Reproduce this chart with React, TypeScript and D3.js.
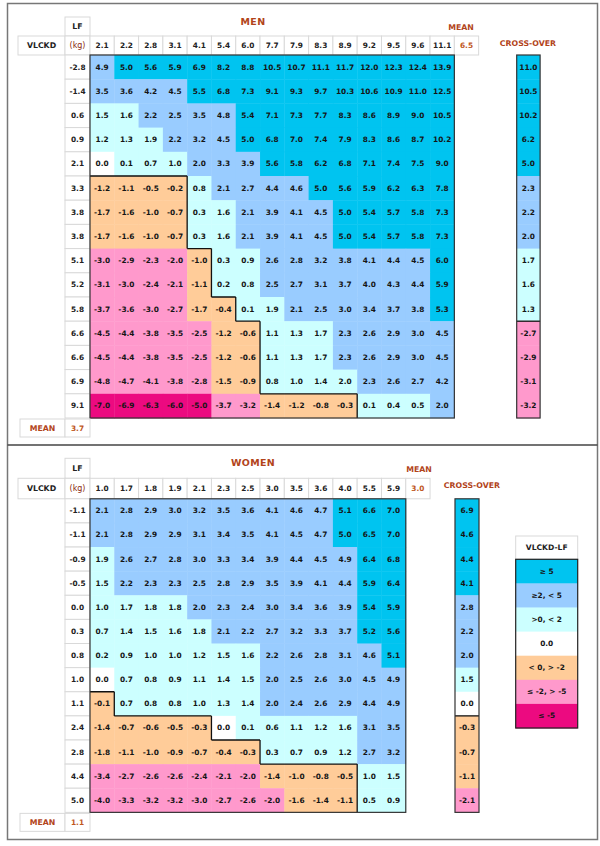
import React from 'react';
import * as d3 from 'd3';

// ---------- DATA ----------
const menLF = [2.1, 2.2, 2.8, 3.1, 4.1, 5.4, 6.0, 7.7, 7.9, 8.3, 8.9, 9.2, 9.5, 9.6, 11.1];
const menVLCKD = [-2.8, -1.4, 0.6, 0.9, 2.1, 3.3, 3.8, 3.8, 5.1, 5.2, 5.8, 6.6, 6.6, 6.9, 9.1];
const menDiff = [
  [4.9, 5.0, 5.6, 5.9, 6.9, 8.2, 8.8, 10.5, 10.7, 11.1, 11.7, 12.0, 12.3, 12.4, 13.9],
  [3.5, 3.6, 4.2, 4.5, 5.5, 6.8, 7.3, 9.1, 9.3, 9.7, 10.3, 10.6, 10.9, 11.0, 12.5],
  [1.5, 1.6, 2.2, 2.5, 3.5, 4.8, 5.4, 7.1, 7.3, 7.7, 8.3, 8.6, 8.9, 9.0, 10.5],
  [1.2, 1.3, 1.9, 2.2, 3.2, 4.5, 5.0, 6.8, 7.0, 7.4, 7.9, 8.3, 8.6, 8.7, 10.2],
  [0.0, 0.1, 0.7, 1.0, 2.0, 3.3, 3.9, 5.6, 5.8, 6.2, 6.8, 7.1, 7.4, 7.5, 9.0],
  [-1.2, -1.1, -0.5, -0.2, 0.8, 2.1, 2.7, 4.4, 4.6, 5.0, 5.6, 5.9, 6.2, 6.3, 7.8],
  [-1.7, -1.6, -1.0, -0.7, 0.3, 1.6, 2.1, 3.9, 4.1, 4.5, 5.0, 5.4, 5.7, 5.8, 7.3],
  [-1.7, -1.6, -1.0, -0.7, 0.3, 1.6, 2.1, 3.9, 4.1, 4.5, 5.0, 5.4, 5.7, 5.8, 7.3],
  [-3.0, -2.9, -2.3, -2.0, -1.0, 0.3, 0.9, 2.6, 2.8, 3.2, 3.8, 4.1, 4.4, 4.5, 6.0],
  [-3.1, -3.0, -2.4, -2.1, -1.1, 0.2, 0.8, 2.5, 2.7, 3.1, 3.7, 4.0, 4.3, 4.4, 5.9],
  [-3.7, -3.6, -3.0, -2.7, -1.7, -0.4, 0.1, 1.9, 2.1, 2.5, 3.0, 3.4, 3.7, 3.8, 5.3],
  [-4.5, -4.4, -3.8, -3.5, -2.5, -1.2, -0.6, 1.1, 1.3, 1.7, 2.3, 2.6, 2.9, 3.0, 4.5],
  [-4.5, -4.4, -3.8, -3.5, -2.5, -1.2, -0.6, 1.1, 1.3, 1.7, 2.3, 2.6, 2.9, 3.0, 4.5],
  [-4.8, -4.7, -4.1, -3.8, -2.8, -1.5, -0.9, 0.8, 1.0, 1.4, 1.96, 2.3, 2.6, 2.7, 4.2],
  [-7.0, -6.9, -6.3, -6.0, -5.0, -3.7, -3.2, -1.4, -1.2, -0.8, -0.3, 0.1, 0.4, 0.5, 2.0],
];
const menCross = [11.0, 10.5, 10.2, 6.2, 5.0, 2.3, 2.2, 2.0, 1.7, 1.6, 1.3, -2.7, -2.9, -3.1, -3.2];
const menCrossBand = [0, 0, 0, 0, 0, 1, 1, 1, 2, 2, 2, 5, 5, 5, 5];
const menMeanLF = 6.5;
const menMeanVLCKD = 3.7;

const womenLF = [1.0, 1.7, 1.8, 1.9, 2.1, 2.3, 2.5, 3.0, 3.5, 3.6, 4.0, 5.5, 5.9];
const womenVLCKD = [-1.1, -1.1, -0.9, -0.5, 0.0, 0.3, 0.8, 1.0, 1.1, 2.4, 2.8, 4.4, 5.0];
const womenDiff = [
  [2.1, 2.8, 2.9, 3.0, 3.2, 3.5, 3.6, 4.1, 4.6, 4.7, 5.1, 6.6, 7.0],
  [2.1, 2.8, 2.9, 2.9, 3.1, 3.4, 3.5, 4.1, 4.5, 4.7, 5.0, 6.5, 7.0],
  [1.9, 2.6, 2.7, 2.8, 3.0, 3.3, 3.4, 3.9, 4.4, 4.5, 4.9, 6.4, 6.8],
  [1.5, 2.2, 2.3, 2.3, 2.5, 2.8, 2.9, 3.5, 3.9, 4.1, 4.4, 5.9, 6.4],
  [1.0, 1.7, 1.8, 1.8, 2.0, 2.3, 2.4, 3.0, 3.4, 3.6, 3.9, 5.4, 5.9],
  [0.7, 1.4, 1.5, 1.6, 1.8, 2.1, 2.2, 2.7, 3.2, 3.3, 3.7, 5.2, 5.6],
  [0.2, 0.9, 1.0, 1.0, 1.2, 1.5, 1.6, 2.2, 2.6, 2.8, 3.1, 4.6, 5.1],
  [0.0, 0.7, 0.8, 0.9, 1.1, 1.4, 1.5, 2.0, 2.5, 2.6, 3.0, 4.5, 4.9],
  [-0.1, 0.7, 0.8, 0.8, 1.0, 1.3, 1.4, 2.0, 2.4, 2.6, 2.9, 4.4, 4.9],
  [-1.4, -0.7, -0.6, -0.5, -0.3, 0.0, 0.1, 0.6, 1.1, 1.2, 1.6, 3.1, 3.5],
  [-1.8, -1.1, -1.0, -0.9, -0.7, -0.4, -0.3, 0.3, 0.7, 0.9, 1.2, 2.7, 3.2],
  [-3.4, -2.7, -2.6, -2.6, -2.4, -2.1, -2.0, -1.4, -1.0, -0.8, -0.5, 1.0, 1.5],
  [-4.0, -3.3, -3.2, -3.2, -3.0, -2.7, -2.6, -2.0, -1.6, -1.4, -1.1, 0.5, 0.9],
];
const womenCross = [6.9, 4.6, 4.4, 4.1, 2.8, 2.2, 2.0, 1.5, 0.0, -0.3, -0.7, -1.1, -2.1];
const womenCrossBand = [0, 0, 0, 0, 1, 1, 1, 2, 3, 4, 4, 4, 5];
const womenMeanLF = 3.0;
const womenMeanVLCKD = 1.1;

const legendLabels = ['≥ 5', '≥2, < 5', '>0, < 2', '0.0', '< 0, > -2', '≤ -2, > -5', '≤ -5'];

// ---------- STYLE ----------
const BAND_COLORS = ['#00c4f0', '#99ccff', '#ccffff', '#ffffff', '#ffcc99', '#ff99cc', '#ec0a80'];
const FONT = '"DejaVu Sans", Verdana, sans-serif';
const BROWN = '#b2441a';
const GRID = '#d9d9d9';

const band = (v: number) => {
  if (v >= 5) return 0;
  if (v >= 2) return 1;
  if (v > 0.001) return 2;
  if (v > -0.001) return 3;
  if (v > -2) return 4;
  if (v > -5) return 5;
  return 6;
};
const fmt = (v: number) => {
  const s = v.toFixed(1);
  return s === '-0.0' ? '0.0' : s;
};

type PanelProps = {
  title: string;
  lf: number[];
  vl: number[];
  diff: number[][];
  cross: number[];
  crossBand: number[];
  meanLF: number;
  meanV: number;
  lfTop: number;
  headTop: number;
  dataTop: number;
  rowH: number;
  crossX: number;
  crossW: number;
  meanLabelX: number;
  crossLabelX: number;
};

const COL0 = 90;
const COLW = 24.29;

function Panel(p: PanelProps) {
  const nC = p.lf.length;
  const nR = p.vl.length;
  const x = d3.scaleBand<number>().domain(d3.range(nC)).range([COL0, COL0 + nC * COLW]);
  const y = d3.scaleBand<number>().domain(d3.range(nR)).range([p.dataTop, p.dataTop + nR * p.rowH]);
  const bw = x.bandwidth();
  const bh = y.bandwidth();
  const headH = p.dataTop - p.headTop;
  const right = COL0 + nC * COLW;
  const bottom = p.dataTop + nR * p.rowH;
  const neg = (i: number, j: number) => band(p.diff[i][j]) >= 4;

  // zero contour
  const segs: string[] = [];
  for (let i = 0; i < nR; i++) {
    for (let j = 0; j < nC; j++) {
      if (!neg(i, j)) continue;
      const x0 = x(j)!, x1 = x0 + bw, y0 = y(i)!, y1 = y0 + bh;
      if (j + 1 < nC && !neg(i, j + 1)) segs.push(`M${x1},${y0}V${y1}`);
      if (j > 0 && !neg(i, j - 1)) segs.push(`M${x0},${y0}V${y1}`);
      if (i > 0 && !neg(i - 1, j)) segs.push(`M${x0},${y0}H${x1}`);
      if (i + 1 < nR && !neg(i + 1, j)) segs.push(`M${x0},${y1}H${x1}`);
    }
  }
  const crossSegs: string[] = [];
  for (let i = 0; i + 1 < nR; i++) {
    const a = p.crossBand[i] >= 4, b = p.crossBand[i + 1] >= 4;
    if (a !== b) crossSegs.push(`M${p.crossX},${y(i + 1)}H${p.crossX + p.crossW}`);
  }

  const numStyle = { fontFamily: FONT, fontSize: 7.4, fontWeight: 700, fill: '#151515' } as const;
  const labStyle = { fontFamily: FONT, fontSize: 7.8, fontWeight: 700 } as const;

  return (
    <g>
      {/* title */}
      <text x={253} y={p.lfTop + 4} textAnchor="middle" dominantBaseline="central"
        style={{ fontFamily: FONT, fontSize: 9.5, fontWeight: 700, fill: BROWN, letterSpacing: 0.3 }}>{p.title}</text>
      <text x={p.meanLabelX} y={p.headTop - 9} textAnchor="middle" dominantBaseline="central"
        style={{ ...labStyle, fill: BROWN }}>MEAN</text>
      <text x={p.crossLabelX} y={p.headTop + 7} textAnchor="middle" dominantBaseline="central"
        style={{ ...labStyle, fill: BROWN }}>CROSS-OVER</text>

      {/* LF header cell */}
      <rect x={65} y={p.lfTop} width={25} height={p.headTop - p.lfTop} fill="#fff" stroke={GRID} />
      <text x={77.5} y={(p.lfTop + p.headTop) / 2} textAnchor="middle" dominantBaseline="central"
        style={{ ...labStyle, fill: '#222' }}>LF</text>
      {/* VLCKD + (kg) */}
      <rect x={18} y={p.headTop} width={47} height={headH} fill="#fff" stroke={GRID} />
      <text x={41.5} y={p.headTop + headH / 2} textAnchor="middle" dominantBaseline="central"
        style={{ ...labStyle, fill: '#222' }}>VLCKD</text>
      <rect x={65} y={p.headTop} width={25} height={headH} fill="#fff" stroke={GRID} />
      <text x={77.5} y={p.headTop + headH / 2} textAnchor="middle" dominantBaseline="central"
        style={{ ...labStyle, fontWeight: 400, fontSize: 8, fill: '#8b2a10' }}>(kg)</text>

      {/* column headers */}
      {p.lf.map((v, j) => (
        <g key={'h' + j}>
          <rect x={x(j)} y={p.headTop} width={bw} height={headH} fill="#fff" stroke={GRID} />
          <text x={x(j)! + bw / 2} y={p.headTop + headH / 2} textAnchor="middle" dominantBaseline="central"
            style={{ ...numStyle, fill: '#222' }}>{fmt(v)}</text>
        </g>
      ))}
      <rect x={right} y={p.headTop} width={bw} height={headH} fill="#fff" stroke={GRID} />
      <text x={right + bw / 2} y={p.headTop + headH / 2} textAnchor="middle" dominantBaseline="central"
        style={{ ...numStyle, fill: '#c0581e' }}>{fmt(p.meanLF)}</text>

      {/* row labels */}
      {p.vl.map((v, i) => (
        <g key={'r' + i}>
          <rect x={65} y={y(i)} width={25} height={bh} fill="#fff" stroke={GRID} />
          <text x={77.5} y={y(i)! + bh / 2} textAnchor="middle" dominantBaseline="central"
            style={{ ...numStyle, fill: '#222' }}>{fmt(v)}</text>
        </g>
      ))}

      {/* cells */}
      {p.diff.map((row, i) =>
        row.map((v, j) => (
          <rect key={`c${i}-${j}`} x={x(j)} y={y(i)} width={bw + 0.4} height={bh + 0.4} fill={BAND_COLORS[band(v)]} />
        ))
      )}
      {p.diff.map((row, i) =>
        row.map((v, j) => (
          <text key={`t${i}-${j}`} x={x(j)! + bw / 2} y={y(i)! + bh / 2} textAnchor="middle" dominantBaseline="central"
            style={numStyle}>{fmt(v)}</text>
        ))
      )}
      <path d={segs.join('')} fill="none" stroke="#111" strokeWidth={1.3} />
      <rect x={COL0} y={p.dataTop} width={right - COL0} height={bottom - p.dataTop} fill="none" stroke="#333" strokeWidth={1.2} />

      {/* cross-over column */}
      {p.cross.map((v, i) => (
        <g key={'x' + i}>
          <rect x={p.crossX} y={y(i)} width={p.crossW} height={bh + 0.4} fill={BAND_COLORS[p.crossBand[i]]} />
          <text x={p.crossX + p.crossW / 2} y={y(i)! + bh / 2} textAnchor="middle" dominantBaseline="central"
            style={numStyle}>{fmt(v)}</text>
        </g>
      ))}
      <path d={crossSegs.join('')} fill="none" stroke="#111" strokeWidth={1.3} />
      <rect x={p.crossX} y={p.dataTop} width={p.crossW} height={bottom - p.dataTop} fill="none" stroke="#333" strokeWidth={1.2} />

      {/* MEAN row */}
      <rect x={20} y={bottom + 1} width={45} height={18} fill="#fff" stroke={GRID} />
      <text x={42.5} y={bottom + 10} textAnchor="middle" dominantBaseline="central"
        style={{ ...labStyle, fill: BROWN }}>MEAN</text>
      <rect x={65} y={bottom + 1} width={25} height={18} fill="#fff" stroke={GRID} />
      <text x={77.5} y={bottom + 10} textAnchor="middle" dominantBaseline="central"
        style={{ ...numStyle, fill: '#c0581e' }}>{fmt(p.meanV)}</text>
    </g>
  );
}

function Legend() {
  const x0 = 515.7, w = 62;
  const headTop = 536, headH = 23.3, rowH = 24.1;
  const y = d3.scaleBand<number>().domain(d3.range(legendLabels.length)).range([headTop + headH, headTop + headH + legendLabels.length * rowH]);
  const numStyle = { fontFamily: FONT, fontSize: 7.4, fontWeight: 700, fill: '#151515' } as const;
  return (
    <g>
      <rect x={x0} y={headTop} width={w} height={headH} fill="#fff" stroke={GRID} />
      <text x={x0 + w / 2} y={headTop + headH / 2} textAnchor="middle" dominantBaseline="central"
        style={{ ...numStyle, fontSize: 7.6, fill: '#222' }}>VLCKD-LF</text>
      {legendLabels.map((l, i) => (
        <g key={l}>
          <rect x={x0} y={y(i)} width={w} height={y.bandwidth() + 0.4} fill={BAND_COLORS[i]} />
          <text x={x0 + w / 2} y={y(i)! + y.bandwidth() / 2} textAnchor="middle" dominantBaseline="central" style={numStyle}>{l}</text>
        </g>
      ))}
      <rect x={x0} y={headTop + headH} width={w} height={legendLabels.length * rowH} fill="none" stroke="#222" strokeWidth={1.2} />
    </g>
  );
}

export default function App() {
  return (
    <svg width={600} height={846} style={{ position: 'absolute', left: 0, top: 0, background: '#fff' }}>
      <rect x={0} y={0} width={600} height={846} fill="#fff" />
      <rect x={7.5} y={3.5} width={590} height={836} fill="none" stroke="#777" strokeWidth={1.5} />
      <line x1={7.5} x2={597.5} y1={445} y2={445} stroke="#444" strokeWidth={1.5} />
      <Panel title="MEN" lf={menLF} vl={menVLCKD} diff={menDiff} cross={menCross} crossBand={menCrossBand}
        meanLF={menMeanLF} meanV={menMeanVLCKD} lfTop={17} headTop={36} dataTop={55} rowH={24.2}
        crossX={516.7} crossW={23.4} meanLabelX={461} crossLabelX={528} />
      <Panel title="WOMEN" lf={womenLF} vl={womenVLCKD} diff={womenDiff} cross={womenCross} crossBand={womenCrossBand}
        meanLF={womenMeanLF} meanV={womenMeanVLCKD} lfTop={458.3} headTop={478.3} dataTop={498.8} rowH={24.12}
        crossX={455} crossW={24} meanLabelX={419} crossLabelX={472} />
      <Legend />
    </svg>
  );
}
